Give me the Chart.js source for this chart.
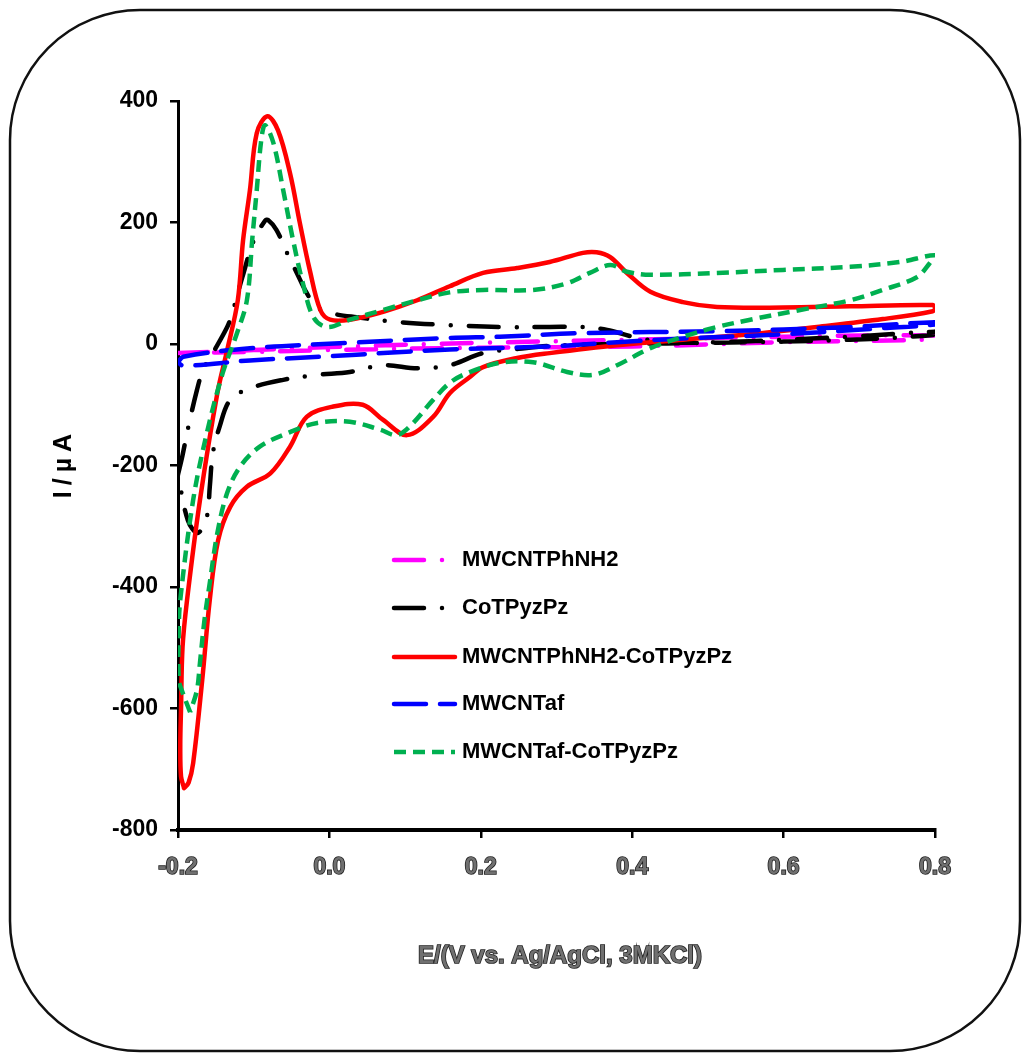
<!DOCTYPE html>
<html>
<head>
<meta charset="utf-8">
<title>Cyclic voltammograms</title>
<script src="https://cdn.jsdelivr.net/npm/chart.js@4/dist/chart.umd.min.js"></script>
<style>
  html, body { margin: 0; padding: 0; background: #fff; }
  #cv { display: block; }
</style>
</head>
<body>
<canvas id="cv" width="1023" height="1057"></canvas>
<script>
// Potential (V) and current (µA) for each voltammogram, listed in sweep order
const seriesNames = ['MWCNTPhNH2', 'CoTPyzPz', 'MWCNTPhNH2-CoTPyzPz', 'MWCNTaf', 'MWCNTaf-CoTPyzPz'];

const phnh2E = [-0.2, -0.1, 0.0, 0.2, 0.4, 0.6, 0.8, 0.8, 0.6, 0.4, 0.2, 0.0, -0.1, -0.2];
const phnh2I = [-15, -10, -5, 2, 7, 12, 14, 8, 3, -4, -6, -10, -13, -15];

const coE = [-0.2, -0.194, -0.187, -0.175, -0.167, -0.154, -0.135, -0.129, -0.115, -0.100, -0.085, -0.081,
             -0.070, -0.056, -0.043, -0.030, -0.017, 0.001, 0.036, 0.093, 0.159, 0.225, 0.291, 0.335, 0.367,
             0.401, 0.445, 0.512, 0.599, 0.688, 0.8,
             0.797, 0.688, 0.512, 0.380, 0.290, 0.250, 0.203, 0.159, 0.116, 0.071, 0.027, -0.017, -0.061,
             -0.105, -0.131, -0.145, -0.154, -0.158, -0.162, -0.174, -0.187, -0.2];
const coI = [-215, -183, -140, -76, -43, -15, 28, 48, 110, 170, 203, 204,
             188, 150, 117, 84, 61, 51, 44, 36, 31, 28, 28, 28, 23,
             12, 3, 3, 7, 12, 20,
             15, 7, 2, 0, -3, -8, -15, -35, -40, -35, -46, -51, -59,
             -73, -92, -136, -180, -235, -285, -311, -290, -215];

const phCoE = [-0.192, -0.196, -0.197, -0.196, -0.194, -0.188, -0.171, -0.148, -0.135, -0.121, -0.114, -0.105,
               -0.096, -0.082, -0.068, -0.052, -0.039, -0.026, -0.012, 0.001, 0.027, 0.071, 0.116, 0.159,
               0.203, 0.248, 0.291, 0.335, 0.353, 0.371, 0.393, 0.424, 0.467, 0.512, 0.599, 0.688, 0.797, 0.8,
               0.797, 0.731, 0.644, 0.556, 0.467, 0.380, 0.291, 0.248, 0.203, 0.186, 0.159, 0.137, 0.1025,
               0.071, 0.044, 0.005, -0.030, -0.052, -0.078, -0.109, -0.131, -0.147, -0.158, -0.168, -0.180,
               -0.186, -0.192];
const phCoI = [-731, -712, -660, -600, -499, -421, -257, -81, -10, 72, 171, 253,
               347, 375, 352, 281, 199, 122, 56, 40, 40, 53, 72, 95,
               117, 125, 135, 150, 151, 143, 117, 86, 69, 61, 60, 62, 64, 59,
               54, 41, 28, 16, 7, -2, -15, -23, -38, -54, -81, -120, -150,
               -125, -100, -103, -120, -169, -213, -235, -268, -323, -421, -553, -690,
               -722, -731];

const afE = [-0.2, -0.193, -0.105, 0.027, 0.159, 0.225, 0.335, 0.512, 0.688, 0.8,
             0.8, 0.731, 0.599, 0.467, 0.380, 0.291, 0.159, 0.071, -0.012, -0.105, -0.193, -0.2];
const afI = [-30, -21, -7, 2, 10, 12, 18, 21, 28, 36,
             32, 26, 16, 9, 3, -4, -9, -15, -21, -27, -36, -30];

const afCoE = [-0.184, -0.195, -0.199, -0.199, -0.197, -0.180, -0.162, -0.141, -0.122, -0.109, -0.102,
               -0.096, -0.090, -0.085, -0.074, -0.061, -0.048, -0.035, -0.021, -0.003, 0.027, 0.071, 0.116,
               0.159, 0.203, 0.269, 0.314, 0.344, 0.371, 0.393, 0.424, 0.512, 0.599, 0.688, 0.754, 0.8,
               0.793, 0.776, 0.731, 0.688, 0.622, 0.556, 0.512, 0.467, 0.424, 0.380, 0.348, 0.314, 0.269,
               0.225, 0.182, 0.159, 0.137, 0.106, 0.089, 0.067, 0.027, -0.016, -0.052, -0.092, -0.118,
               -0.135, -0.148, -0.158, -0.165, -0.171, -0.175, -0.184];
const afCoI = [-606, -570, -553, -470, -421, -257, -147, -48, 18, 72, 171,
               253, 336, 360, 331, 253, 171, 100, 44, 28, 40, 56, 72,
               85, 89, 89, 100, 117, 130, 119, 114, 117, 122, 127, 135, 146,
               133, 110, 89, 72, 56, 40, 28, 12, -7, -35, -51, -46, -30,
               -31, -48, -64, -92, -136, -150, -141, -128, -130, -145, -169, -202,
               -245, -311, -393, -454, -525, -570, -606];

// Axis ticks
const xTicks = [-0.2, 0.0, 0.2, 0.4, 0.6, 0.8];
const yTicks = [-800, -600, -400, -200, 0, 200, 400];

const toPoints = (xs, ys) => xs.map((x, i) => ({ x: x, y: ys[i] }));

const sans = "'Liberation Sans', Arial, sans-serif";

const datasets = [
  { label: seriesNames[0], data: toPoints(phnh2E, phnh2I), borderColor: '#ff00ff', borderWidth: 4.5,
    borderDash: [30, 18, 0, 18], borderCapStyle: 'round', order: 5 },
  { label: seriesNames[1], data: toPoints(coE, coI), borderColor: '#000000', borderWidth: 4.5,
    borderDash: [30, 18, 0, 18], borderCapStyle: 'round', order: 4 },
  { label: seriesNames[2], data: toPoints(phCoE, phCoI), borderColor: '#ff0000', borderWidth: 4.5,
    borderDash: [], borderCapStyle: 'round', order: 3 },
  { label: seriesNames[3], data: toPoints(afE, afI), borderColor: '#0000ff', borderWidth: 4.5,
    borderDash: [32, 14], borderCapStyle: 'round', order: 2 },
  { label: seriesNames[4], data: toPoints(afCoE, afCoI), borderColor: '#00b050', borderWidth: 4.5,
    borderDash: [12, 7], borderCapStyle: 'butt', order: 1 }
].map(d => Object.assign(d, {
  showLine: true, fill: false, pointRadius: 0, pointHoverRadius: 0, tension: 0.35,
  borderJoinStyle: 'round', backgroundColor: d.borderColor
}));

// Rounded frame around the figure
const framePlugin = {
  id: 'frame',
  beforeDraw(chart) {
    const c = chart.ctx;
    c.save();
    c.fillStyle = '#ffffff';
    c.fillRect(0, 0, chart.width, chart.height);
    c.beginPath();
    c.roundRect(10, 10, 1010, 1041, 130);
    c.lineWidth = 2.5;
    c.strokeStyle = '#111111';
    c.stroke();
    c.restore();
  }
};

// Axis titles and the in-plot legend
const annotatePlugin = {
  id: 'annotate',
  afterDraw(chart) {
    const c = chart.ctx;
    c.save();
    // y title
    c.translate(64, 466);
    c.rotate(-Math.PI / 2);
    c.font = "bold 25px " + sans;
    c.letterSpacing = '6px';
    c.fillStyle = '#000';
    c.textAlign = 'center';
    c.textBaseline = 'middle';
    c.fillText('I/µA', 3, 0);
    c.restore();

    // x title
    c.save();
    c.font = "bold 24px " + sans;
    c.textAlign = 'center';
    c.textBaseline = 'middle';
    c.lineWidth = 1.6;
    c.strokeStyle = '#222';
    c.strokeText('E/(V vs. Ag/AgCl, 3MKCl)', 560, 956);
    c.fillStyle = '#707070';
    c.fillText('E/(V vs. Ag/AgCl, 3MKCl)', 560, 956);
    c.restore();

    // legend
    const rows = [560, 608, 657, 704, 752];
    chart.data.datasets.forEach((ds, i) => {
      const y = rows[i];
      c.save();
      c.beginPath();
      c.setLineDash(ds.borderDash || []);
      c.lineCap = ds.borderCapStyle;
      c.lineWidth = ds.borderWidth;
      c.strokeStyle = ds.borderColor;
      c.moveTo(394, y);
      c.lineTo(455, y);
      c.stroke();
      c.setLineDash([]);
      c.font = "bold 22px " + sans;
      c.fillStyle = '#000';
      c.textAlign = 'left';
      c.textBaseline = 'middle';
      c.fillText(ds.label, 462, y);
      c.restore();
    });
  }
};

new Chart(document.getElementById('cv'), {
  type: 'scatter',
  data: { datasets: datasets },
  plugins: [framePlugin, annotatePlugin],
  options: {
    responsive: false,
    animation: false,
    events: [],
    layout: { padding: { left: 0, right: 88, top: 101, bottom: 0 } },
    plugins: { legend: { display: false }, tooltip: { enabled: false } },
    scales: {
      x: {
        type: 'linear', min: xTicks[0], max: xTicks[xTicks.length - 1],
        afterBuildTicks(s) { s.ticks = xTicks.map(v => ({ value: v })); },
        afterFit(s) { s.height = 227; },
        ticks: {
          callback: v => Number(v).toFixed(1),
          font: { family: sans, size: 23, weight: 'bold' },
          color: '#707070', textStrokeColor: '#222', textStrokeWidth: 1.6,
          padding: 16, maxRotation: 0, autoSkip: false
        },
        grid: { drawOnChartArea: false, drawTicks: true, tickLength: 8, color: '#000', lineWidth: 2.5 },
        border: { display: true, color: '#000', width: 4 }
      },
      y: {
        type: 'linear', min: yTicks[0], max: yTicks[yTicks.length - 1],
        afterBuildTicks(s) { s.ticks = yTicks.map(v => ({ value: v })); },
        afterFit(s) { s.width = 178; },
        ticks: {
          callback: v => String(v),
          font: { family: sans, size: 23, weight: 'bold' },
          color: '#000', padding: 12, autoSkip: false
        },
        grid: { drawOnChartArea: false, drawTicks: true, tickLength: 8, color: '#000', lineWidth: 2.5 },
        border: { display: true, color: '#000', width: 3 }
      }
    }
  }
});
</script>
</body>
</html>
